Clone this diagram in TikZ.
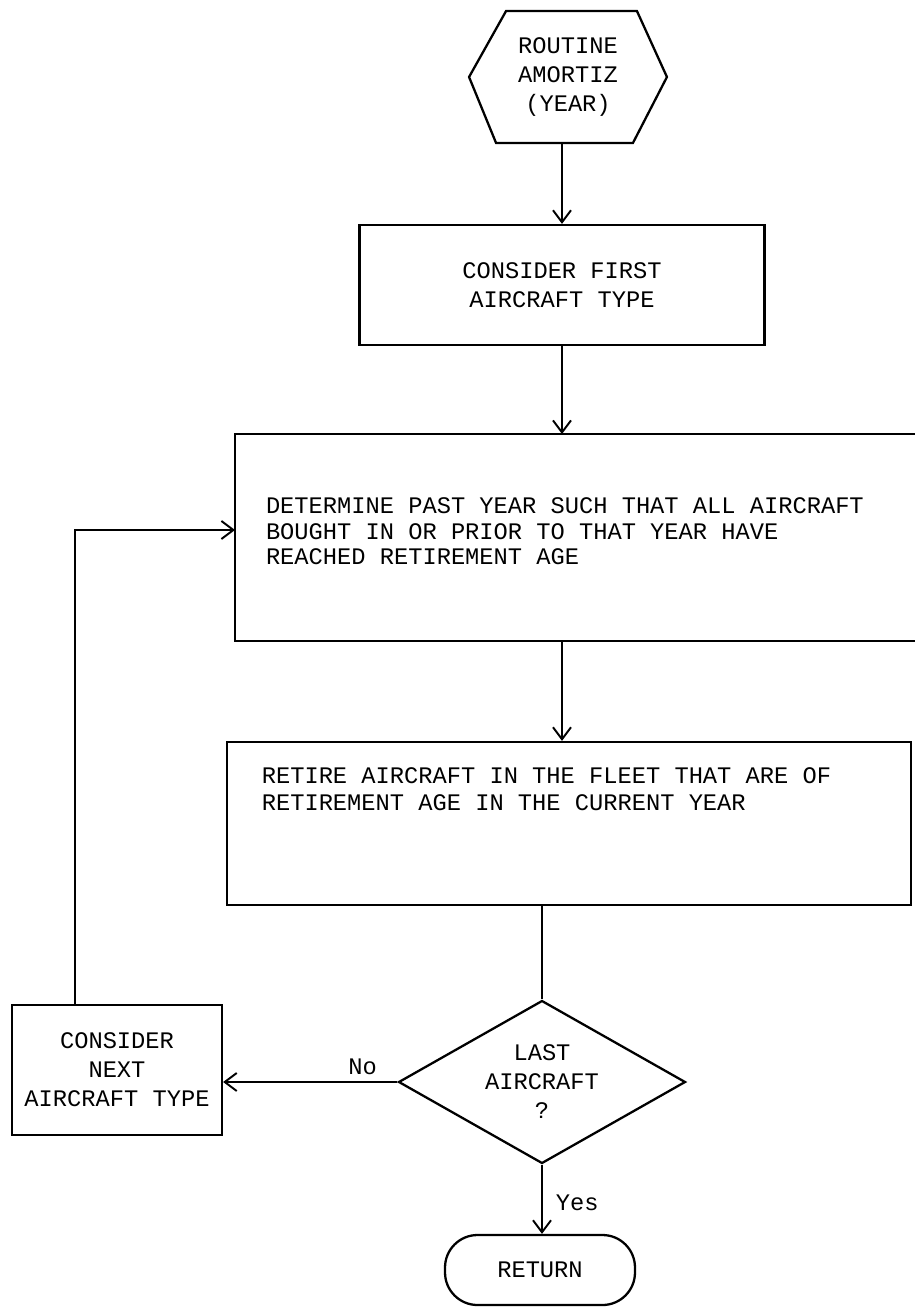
\documentclass[tikz,border=0pt]{standalone}
\usepackage{fontspec}
\setmonofont{Liberation Mono}
\usepackage{tikz}
\usetikzlibrary{shapes, arrows.meta, positioning, fit, calc}

\begin{document}
\begin{tikzpicture}[x=0.02cm, y=-0.02cm, font=\ttfamily\fontsize{13.5}{16.5}\selectfont, >={Straight Barb[length=2.4mm, width=3.6mm]}, line width=1.1pt]
  \useasboundingbox (0,0) rectangle (914,1308);
  \node[align=center, minimum width=3.92cm, minimum height=2.6cm] (routine_start) at (568,77) {ROUTINE\\AMORTIZ\\(YEAR)};
  \draw[line width=1.3pt] (routine_start.west) -- ($(routine_start.north west)+(37,0)$) -- ($(routine_start.north east)+(-30,0)$) -- (routine_start.east) -- ($(routine_start.south east)+(-34,0)$) -- ($(routine_start.south west)+(27,0)$) -- cycle;
\node[rectangle, draw=black, line width=1.3pt, align=center, minimum width=8.1cm, minimum height=2.4cm] (first_type) at (562,285) {CONSIDER FIRST\\AIRCRAFT TYPE};
  \coordinate (past_nw) at (236,435);
  \coordinate (past_se) at (914,640);
  \node[inner sep=0pt, fit={(past_nw) (past_se)}] (past_year) {};
  \draw[line width=1.3pt] (past_year.north east) -- (past_year.north west) -- (past_year.south west) -- (past_year.south east);
\node[anchor=west, align=left, inner sep=0pt, font=\ttfamily\fontsize{13.5}{14.5}\selectfont] (past_text) at ($(past_year.west)+(30,-6)$) {DETERMINE PAST YEAR SUCH THAT ALL AIRCRAFT\\BOUGHT IN OR PRIOR TO THAT YEAR HAVE\\REACHED RETIREMENT AGE};
  \coordinate (retire_nw) at (227,742);
  \coordinate (retire_se) at (911,905);
  \node[draw=black, line width=1.3pt, inner sep=0pt, fit={(retire_nw) (retire_se)}] (retire_box) {};
\node[anchor=north west, align=left, inner sep=0pt, font=\ttfamily\fontsize{13.5}{15}\selectfont] (retire_text) at ($(retire_box.north west)+(35,26)$) {RETIRE AIRCRAFT IN THE FLEET THAT ARE OF\\RETIREMENT AGE IN THE CURRENT YEAR};
\node[diamond, aspect=1.76, draw=black, line width=1.3pt, align=center, inner sep=0pt, minimum width=5.74cm, minimum height=3.26cm] (last_check) at (542,1082) {LAST\\AIRCRAFT\\?};
\node[rectangle, draw=black, line width=1.3pt, align=center, minimum width=4.2cm, minimum height=2.6cm] (next_type) at (117,1070) {CONSIDER\\NEXT\\AIRCRAFT TYPE};
\node[rectangle, rounded corners=0.65cm, draw=black, line width=1.3pt, minimum width=3.8cm, minimum height=1.4cm] (return_end) at (540,1270) {RETURN};
  \coordinate (loop_corner) at (75,530);
\path[->]
	(first_type.north |- routine_start.south) edge (first_type.north)
	(first_type.south) edge (first_type.south |- past_year.north)
	(past_year.south -| first_type.south) edge (retire_box.north -| first_type.south)
	(last_check.west) edge node[above, pos=0.2] {No} (last_check.west -| next_type.east)
	(last_check.south) edge node[right=4pt, pos=0.55] {Yes} (last_check.south |- return_end.north)
;
  \draw (retire_box.south -| last_check.north) -- (last_check.north);
  \draw[->] (next_type.north -| loop_corner) -- (loop_corner) -- (loop_corner -| past_year.west);
\end{tikzpicture}
\end{document}
